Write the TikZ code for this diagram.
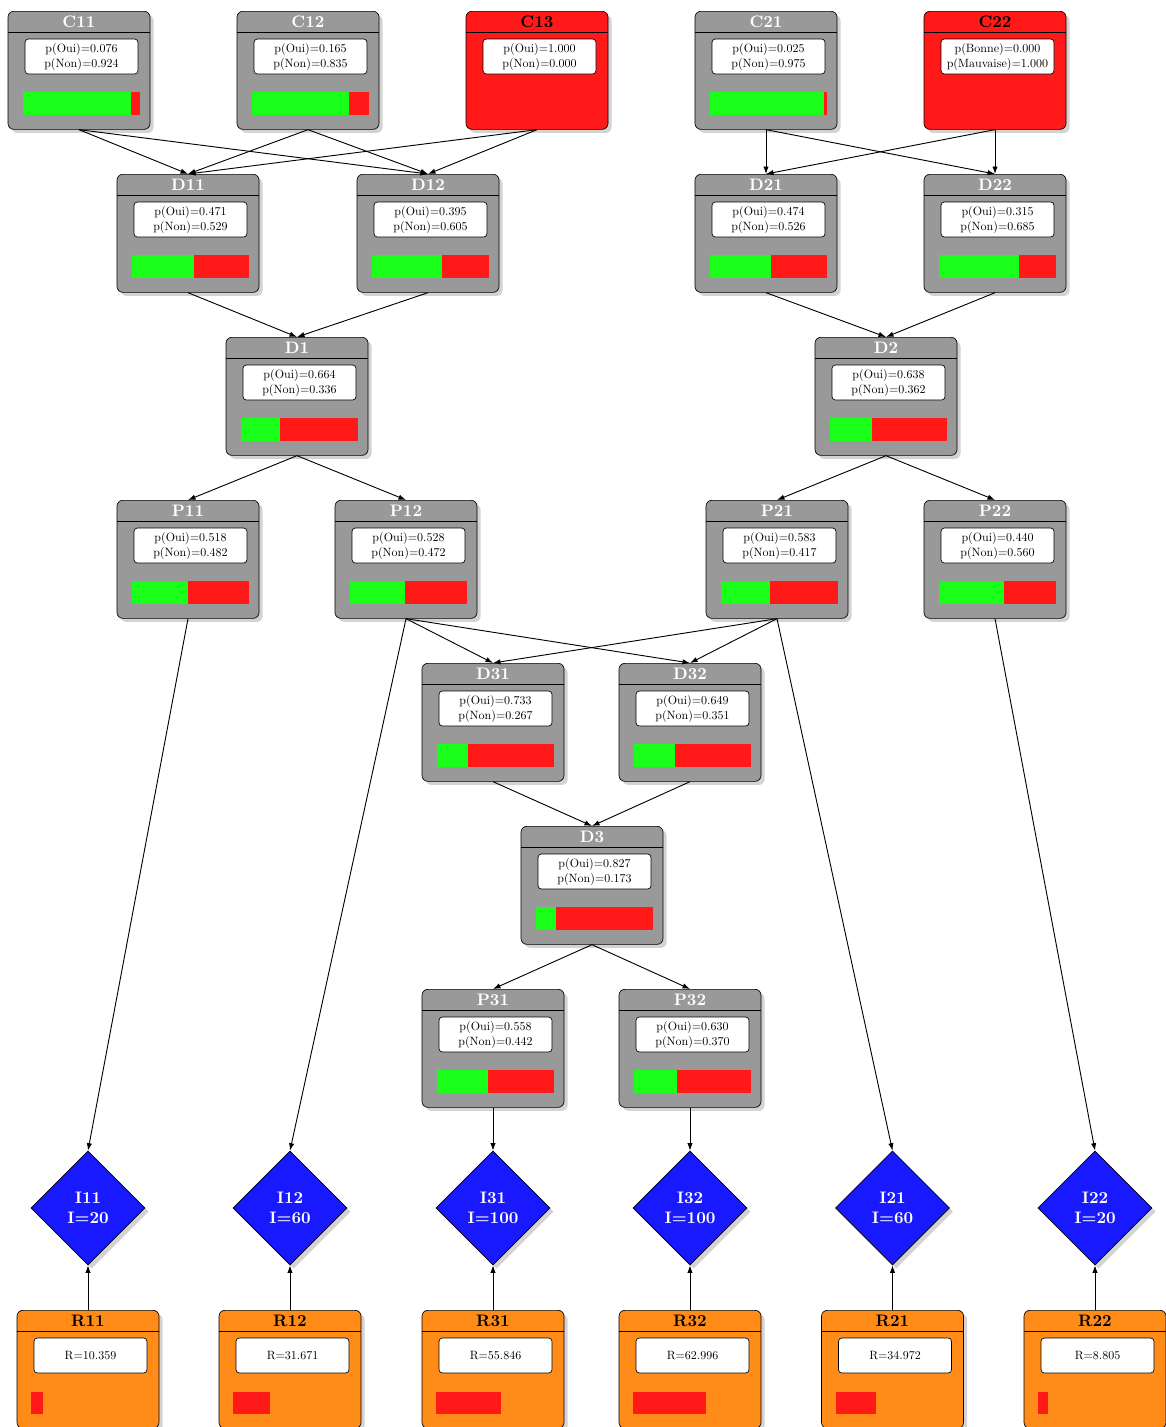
\documentclass[tikz,border=0pt]{standalone}
\usepackage{fontspec}
\usepackage{amsmath}
\usepackage{xcolor}
\usepackage{tikz}
\usetikzlibrary{shapes.geometric, arrows.meta, shadows}

\newfontfamily\valfont[Extension=.otf]{lmroman10-regular}

\tikzset{
  nodebox/.style={draw, rounded corners=3.5pt, minimum width=85.2pt, minimum height=70.8pt,
    anchor=north, inner sep=0pt, drop shadow={opacity=0.35}},
  greybox/.style={nodebox, fill=black!40},
  redbox/.style={nodebox, fill=red!90},
  orangebox/.style={nodebox, fill=orange!90},
  greytitle/.style={text=white, font=\bfseries},
  redtitle/.style={text=black, font=\bfseries},
  orangetitle/.style={text=black, font=\bfseries},
  valbox/.style={draw, fill=white, rounded corners=2pt, minimum width=67.8pt, minimum height=21pt,
    inner sep=0pt, align=center, font=\valfont\fontsize{7.2}{9}\selectfont},
  decision/.style={diamond, draw, fill=blue!90, text=white, font=\bfseries, align=center,
    minimum width=68.4pt, minimum height=68.4pt, inner sep=0pt, drop shadow={opacity=0.35}},
  edge/.style={-{Latex[length=4.5pt,width=3.2pt]}, line width=0.55pt},
}

% box with a title bar and a value field
\newcommand{\boxnode}[6]{%
  \node[#4box] (#1) at (#2,#3) {};
  \node[#4title] at (#2,#3+10.5) {#5};
  \draw (#2-71,#3+21) -- (#2+71,#3+21);
  \node[valbox] at (#2+2.5,#3+45.5) {#6};
}
% probability bar, green part first
\newcommand{\probbar}[3]{%
  \fill[green!90] (#1-56,#2+81) rectangle ++(116.5*#3,23);
  \fill[red!90] (#1-56+116.5*#3,#2+81) rectangle (#1+60.5,#2+104);
}
\newcommand{\probnode}[6]{%
  \boxnode{#1}{#2}{#3}{grey}{#1}{p(Oui)=#5\\p(Non)=#6}
  \probbar{#2}{#3}{#6}
}
\newcommand{\resnode}[4]{%
  \boxnode{#1}{#2}{#3}{orange}{#1}{R=#4}
  \fill[red!90] (#2-57,#3+82) rectangle ++(1.165*#4,22);
}

\begin{document}
\begin{tikzpicture}[x=0.6pt, y=-0.6pt]
\useasboundingbox (0,0) rectangle (1166,1427);

% chance nodes
\probnode{C11}{79}{11}{}{0.076}{0.924}
\probnode{C12}{308}{11}{}{0.165}{0.835}
\boxnode{C13}{537}{11}{red}{C13}{p(Oui)=1.000\\p(Non)=0.000}
\probnode{C21}{766}{11}{}{0.025}{0.975}
\boxnode{C22}{995}{11}{red}{C22}{p(Bonne)=0.000\\p(Mauvaise)=1.000}

% decisions
\probnode{D11}{188}{174}{}{0.471}{0.529}
\probnode{D12}{428}{174}{}{0.395}{0.605}
\probnode{D21}{766}{174}{}{0.474}{0.526}
\probnode{D22}{995}{174}{}{0.315}{0.685}
\probnode{D1}{297}{337}{}{0.664}{0.336}
\probnode{D2}{886}{337}{}{0.638}{0.362}

\probnode{P11}{188}{500}{}{0.518}{0.482}
\probnode{P12}{406}{500}{}{0.528}{0.472}
\probnode{P21}{777}{500}{}{0.583}{0.417}
\probnode{P22}{995}{500}{}{0.440}{0.560}

\probnode{D31}{493}{663}{}{0.733}{0.267}
\probnode{D32}{690}{663}{}{0.649}{0.351}
\probnode{D3}{592}{826}{}{0.827}{0.173}
\probnode{P31}{493}{989}{}{0.558}{0.442}
\probnode{P32}{690}{989}{}{0.630}{0.370}

% impacts
\node[decision] (I11) at (88,1208) {I11\\I=20};
\node[decision] (I12) at (290,1208) {I12\\I=60};
\node[decision] (I31) at (493,1208) {I31\\I=100};
\node[decision] (I32) at (690,1208) {I32\\I=100};
\node[decision] (I21) at (892.5,1208) {I21\\I=60};
\node[decision] (I22) at (1095,1208) {I22\\I=20};

% results
\resnode{R11}{88}{1310}{10.359}
\resnode{R12}{290}{1310}{31.671}
\resnode{R31}{493}{1310}{55.846}
\resnode{R32}{690}{1310}{62.996}
\resnode{R21}{892.5}{1310}{34.972}
\resnode{R22}{1095}{1310}{8.805}

\foreach \a/\b in {C11/D11, C11/D12, C12/D11, C12/D12, C13/D11, C13/D12,
    C21/D21, C21/D22, C22/D21, C22/D22, D11/D1, D12/D1, D21/D2, D22/D2,
    D1/P11, D1/P12, D2/P21, D2/P22, P12/D31, P12/D32, P21/D31, P21/D32,
    D31/D3, D32/D3, D3/P31, D3/P32,
    P11/I11, P12/I12, P31/I31, P32/I32, P21/I21, P22/I22}
  \draw[edge] (\a.south) -- (\b.north);
\foreach \k in {11,12,31,32,21,22}
  \draw[edge] (R\k.north) -- (I\k.south);
\end{tikzpicture}
\end{document}
